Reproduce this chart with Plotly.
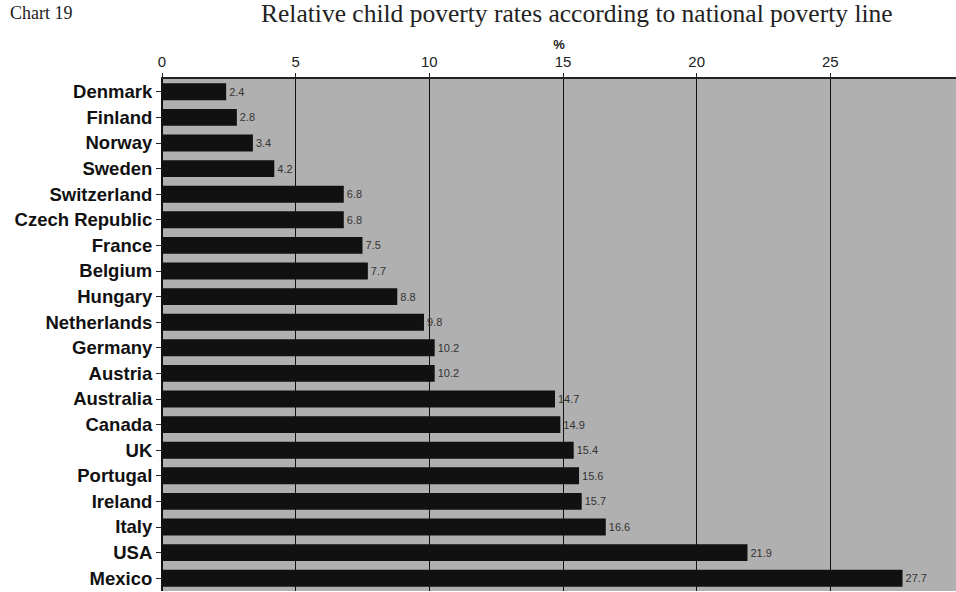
import plotly.graph_objects as go

countries = ["Denmark", "Finland", "Norway", "Sweden", "Switzerland", "Czech Republic",
             "France", "Belgium", "Hungary", "Netherlands", "Germany", "Austria",
             "Australia", "Canada", "UK", "Portugal", "Ireland", "Italy", "USA", "Mexico"]
values = [2.4, 2.8, 3.4, 4.2, 6.8, 6.8, 7.5, 7.7, 8.8, 9.8, 10.2, 10.2,
          14.7, 14.9, 15.4, 15.6, 15.7, 16.6, 21.9, 27.7]
tick_vals = [0, 5, 10, 15, 20, 25]

fig = go.Figure()
fig.add_trace(go.Bar(
    x=values, y=countries, orientation="h",
    marker=dict(color="#111111", line=dict(width=0)),
    width=0.66,
    text=[f"{v:.1f}" for v in values], textposition="outside",
    textfont=dict(family="Liberation Sans, Arial", size=11, color="#333"),
    cliponaxis=False,
))

fig.update_layout(
    width=956, height=592,
    margin=dict(l=162, r=0, t=79, b=1),
    paper_bgcolor="white", plot_bgcolor="#b0b0b0",
    showlegend=False,
    xaxis=dict(side="top", range=[0, 29.7], tickvals=tick_vals,
               showgrid=True, gridcolor="#111", gridwidth=1,
               ticks="outside", ticklen=4, tickcolor="#222", ticklabelstandoff=0,
               tickfont=dict(family="Liberation Sans, Arial", size=15, color="#222"),
               title=dict(text="<b>%</b>", font=dict(family="Liberation Sans, Arial", size=13, color="#222"), standoff=0),
               zeroline=True, zerolinecolor="#111", zerolinewidth=1,
               showline=True, linecolor="#222", linewidth=2),
    yaxis=dict(categoryorder="array", categoryarray=countries, autorange="reversed",
               ticks="outside", ticklen=5, tickcolor="#222",
               tickfont=dict(family="Liberation Sans, Arial", size=18.5, color="#111", weight="bold"),
               showline=True, linecolor="#111"),
    font=dict(family="Liberation Sans, Arial"),
)

fig.add_annotation(text="Chart 19", xref="paper", yref="paper", x=-154/794, y=1 + 66/512,
                   xanchor="left", yanchor="middle", showarrow=False,
                   font=dict(family="Liberation Serif, Times New Roman", size=18, color="#222"))
fig.add_annotation(text="Relative child poverty rates according to national poverty line",
                   xref="paper", yref="paper", x=(577 - 162) / 794, y=1 + 66/512,
                   xanchor="center", yanchor="middle", showarrow=False,
                   font=dict(family="Liberation Serif, Times New Roman", size=25.5, color="#222"))

fig.write_html("out.html")
